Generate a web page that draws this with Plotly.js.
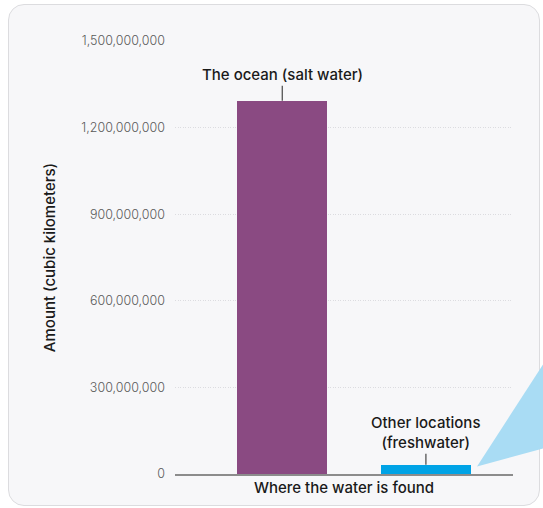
<!DOCTYPE html>
<html>
<head>
<meta charset="utf-8">
<script src="https://cdn.plot.ly/plotly-3.0.1.min.js"></script>
<style>
  html, body { margin: 0; padding: 0; background: #ffffff; }
  #card {
    position: absolute; left: 8px; top: 4px; width: 530px; height: 500px;
    background: #f7f7f9; border: 1px solid #dcdcdf; border-radius: 16px;
  }
  #chart { position: absolute; left: 0; top: 0; width: 543px; height: 508px; }
</style>
</head>
<body>
<div id="card"></div>
<div id="chart"></div>
<script>
// Where Earth's water is found, in cubic kilometers
const locations = ["The ocean (salt water)", "Other locations<br>(freshwater)"];
const volumes = [1293000000, 32000000];
const barColors = ["#8a4a82", "#00a3e6"];
const yTicks = [0, 300000000, 600000000, 900000000, 1200000000, 1500000000];

const font = "Inter, 'Open Sans', sans-serif";

const trace = {
  type: "bar",
  x: locations,
  y: volumes,
  width: 0.629,
  marker: { color: barColors, line: { width: 0 } },
  hoverinfo: "skip"
};

// Labels above each bar, with a short leader line down to the bar top
const labelOffsets = [-26, -32];
const annotations = locations.map((name, i) => ({
  x: name, y: volumes[i], xref: "x", yref: "y",
  text: name, showarrow: true, arrowhead: 0, arrowwidth: 1.3,
  arrowcolor: "#555555", ax: 0, ay: labelOffsets[i],
  font: { family: font, size: 15, color: "#1a1a1a", weight: 500 },
  align: "center"
}));

const layout = {
  width: 543, height: 508,
  margin: { l: 175, r: 30, t: 41, b: 34, pad: 0 },
  paper_bgcolor: "rgba(0,0,0,0)",
  plot_bgcolor: "rgba(0,0,0,0)",
  showlegend: false,
  bargap: 0,
  xaxis: {
    type: "category",
    range: [-0.747, 1.6065],
    showticklabels: false, ticks: "",
    showgrid: false, zeroline: false,
    showline: true, linecolor: "#8c8c8c", linewidth: 1.5,
    title: { text: "Where the water is found", standoff: 8,
             font: { family: font, size: 15, color: "#1a1a1a", weight: 500 } },
    fixedrange: true
  },
  yaxis: {
    range: [0, 1500000000],
    tickvals: yTicks, tickformat: ",",
    ticks: "", ticklabelstandoff: 9,
    tickfont: { family: font, size: 12.5, color: "#5a5a5a", weight: 300 },
    showgrid: true, gridcolor: "#dcdce0", griddash: "1px,1.5px", gridwidth: 1,
    zeroline: false, showline: false,
    title: { text: "Amount (cubic kilometers)", standoff: 22,
             font: { family: font, size: 15, color: "#1a1a1a", weight: 500 } },
    fixedrange: true
  },
  shapes: [
    {
      // callout wedge leading off from the freshwater bar
      type: "path", xref: "paper", yref: "paper", layer: "above",
      path: "M 0.8935 0.0173 L 1.10 0.2667 L 1.10 0.0612 Z",
      fillcolor: "#a9dcf4", line: { width: 0 }
    }
  ],
  annotations: annotations
};

Plotly.newPlot("chart", [trace], layout, { displayModeBar: false, staticPlot: true });
</script>
</body>
</html>
